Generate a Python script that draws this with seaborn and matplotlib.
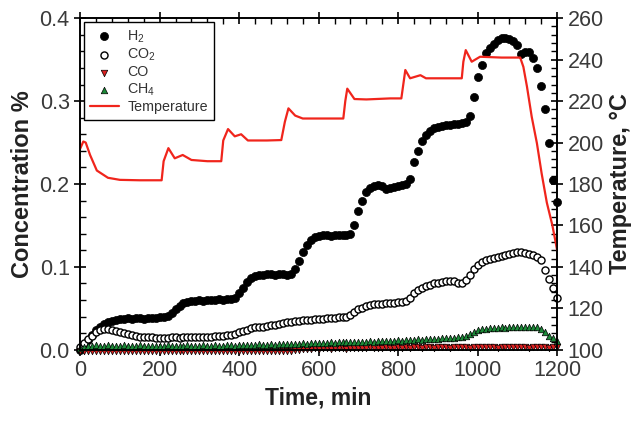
import numpy as np
import seaborn as sns
import matplotlib.pyplot as plt
from matplotlib.ticker import MultipleLocator, FormatStrFormatter

# sampling times of the gas readings (min)
time = np.arange(0, 1201, 10)

h2 = [0.000, 0.006, 0.012, 0.018, 0.024, 0.028, 0.031, 0.033, 0.035, 0.036,
      0.037, 0.037, 0.038, 0.037, 0.038, 0.038, 0.037, 0.038, 0.038, 0.038,
      0.039, 0.039, 0.041, 0.045, 0.049, 0.053, 0.056, 0.058, 0.059, 0.059,
      0.060, 0.059, 0.060, 0.060, 0.060, 0.061, 0.060, 0.061, 0.061, 0.063,
      0.068, 0.075, 0.082, 0.087, 0.089, 0.090, 0.090, 0.091, 0.091, 0.090,
      0.091, 0.091, 0.090, 0.092, 0.097, 0.107, 0.118, 0.127, 0.133, 0.136,
      0.137, 0.138, 0.138, 0.137, 0.138, 0.139, 0.138, 0.139, 0.140, 0.151,
      0.168, 0.180, 0.190, 0.195, 0.198, 0.199, 0.197, 0.194, 0.195, 0.196,
      0.197, 0.199, 0.200, 0.206, 0.226, 0.240, 0.252, 0.259, 0.264, 0.267,
      0.269, 0.270, 0.271, 0.271, 0.272, 0.272, 0.273, 0.275, 0.282, 0.305,
      0.329, 0.343, 0.358, 0.364, 0.369, 0.374, 0.376, 0.376, 0.375, 0.372,
      0.368, 0.357, 0.359, 0.359, 0.352, 0.340, 0.318, 0.290, 0.250, 0.205,
      0.178]

co2 = [0.003, 0.008, 0.013, 0.017, 0.021, 0.024, 0.025, 0.025, 0.024, 0.023,
       0.021, 0.020, 0.019, 0.018, 0.017, 0.016, 0.016, 0.015, 0.015, 0.014,
       0.014, 0.014, 0.014, 0.015, 0.015, 0.014, 0.015, 0.015, 0.015, 0.015,
       0.016, 0.016, 0.016, 0.016, 0.017, 0.017, 0.017, 0.018, 0.018, 0.019,
       0.021, 0.023, 0.024, 0.026, 0.027, 0.028, 0.028, 0.029, 0.030, 0.030,
       0.031, 0.032, 0.033, 0.034, 0.035, 0.035, 0.036, 0.036, 0.036, 0.037,
       0.037, 0.037, 0.038, 0.038, 0.038, 0.039, 0.039, 0.040, 0.042, 0.046,
       0.049, 0.051, 0.053, 0.054, 0.055, 0.055, 0.055, 0.056, 0.057, 0.057,
       0.058, 0.058, 0.059, 0.063, 0.068, 0.072, 0.075, 0.077, 0.078, 0.080,
       0.081, 0.082, 0.083, 0.083, 0.083, 0.081, 0.081, 0.084, 0.090, 0.097,
       0.102, 0.106, 0.108, 0.110, 0.111, 0.112, 0.113, 0.114, 0.116, 0.117,
       0.118, 0.118, 0.117, 0.116, 0.114, 0.112, 0.108, 0.096, 0.086, 0.075,
       0.063]

co = [-0.002, -0.001, -0.002, -0.001, -0.002, -0.001, -0.001, -0.002, -0.001, -0.002,
      -0.001, -0.001, -0.002, -0.001, -0.001, -0.002, -0.001, -0.001, -0.002, -0.001,
      -0.001, -0.002, -0.001, -0.001, -0.002, -0.001, -0.001, -0.001, -0.002, -0.001,
      -0.001, -0.001, -0.002, -0.001, -0.001, -0.001, -0.001, -0.002, -0.001, -0.001,
      -0.001, -0.001, -0.001, -0.001, -0.002, -0.001, -0.001, -0.001, -0.001, -0.001,
      -0.001, -0.001, -0.001, -0.001, 0.000, 0.000, 0.001, 0.001, 0.001, 0.002,
      0.001, 0.002, 0.002, 0.001, 0.002, 0.002, 0.002, 0.001, 0.002, 0.002,
      0.002, 0.002, 0.002, 0.003, 0.002, 0.002, 0.002, 0.003, 0.002, 0.002,
      0.003, 0.002, 0.003, 0.002, 0.003, 0.003, 0.002, 0.003, 0.003, 0.002,
      0.003, 0.003, 0.003, 0.002, 0.003, 0.003, 0.003, 0.003, 0.002, 0.003,
      0.003, 0.003, 0.003, 0.003, 0.003, 0.002, 0.003, 0.003, 0.003, 0.003,
      0.003, 0.003, 0.003, 0.002, 0.003, 0.003, 0.003, 0.003, 0.002, 0.003,
      0.003]

ch4 = [0.002, 0.004, 0.005, 0.005, 0.006, 0.005, 0.005, 0.006, 0.005, 0.005,
       0.005, 0.006, 0.005, 0.005, 0.005, 0.006, 0.005, 0.005, 0.005, 0.005,
       0.005, 0.005, 0.006, 0.005, 0.005, 0.005, 0.005, 0.006, 0.005, 0.005,
       0.005, 0.006, 0.005, 0.005, 0.006, 0.005, 0.005, 0.006, 0.006, 0.005,
       0.006, 0.006, 0.006, 0.006, 0.006, 0.007, 0.006, 0.006, 0.007, 0.006,
       0.007, 0.007, 0.007, 0.007, 0.007, 0.007, 0.008, 0.007, 0.008, 0.008,
       0.008, 0.008, 0.008, 0.009, 0.008, 0.009, 0.009, 0.009, 0.009, 0.010,
       0.010, 0.010, 0.010, 0.011, 0.010, 0.011, 0.011, 0.011, 0.011, 0.011,
       0.012, 0.011, 0.012, 0.012, 0.012, 0.013, 0.012, 0.013, 0.013, 0.013,
       0.013, 0.014, 0.014, 0.014, 0.014, 0.015, 0.015, 0.017, 0.019, 0.022,
       0.024, 0.025, 0.025, 0.026, 0.026, 0.026, 0.027, 0.026, 0.027, 0.027,
       0.027, 0.027, 0.028, 0.028, 0.028, 0.027, 0.025, 0.021, 0.017, 0.014,
       0.011]

# temperature trace (min, degC)
temp_time = [0, 8, 14, 25, 42, 70, 100, 150, 205, 210, 222, 238, 258, 280, 320, 355,
             360, 372, 389, 405, 422, 470, 506, 515, 524, 541, 560, 620, 662, 667,
             672, 690, 720, 780, 808, 818, 830, 856, 870, 920, 960, 964, 970, 985,
             1006, 1060, 1107, 1115, 1124, 1136, 1149, 1161, 1174, 1188, 1200]
temp_vals = [197, 200.5, 200, 194, 186.5, 183, 182, 181.8, 181.8, 191, 197.3, 192.4,
             194, 191.6, 191, 191, 201, 206.5, 203, 204, 201, 201, 201.2, 210,
             216.5, 213, 211.6, 211.6, 211.6, 220, 226, 221, 220.8, 221.3, 221.3,
             235, 231, 232.5, 231, 231, 231, 239, 244.6, 239, 241.4, 241, 241,
             236.5, 227, 212.4, 199.7, 185, 171, 160, 148]

sns.set_style('ticks')
plt.rcParams['font.family'] = ['Liberation Sans', 'DejaVu Sans']
plt.rcParams['mathtext.fontset'] = 'custom'
plt.rcParams['mathtext.rm'] = 'Liberation Sans'
plt.rcParams['mathtext.default'] = 'regular'

fig, ax = plt.subplots(figsize=(6.31, 4.23), dpi=100)
fig.subplots_adjust(left=0.127, right=0.883, bottom=0.173, top=0.957)

sns.scatterplot(x=time, y=h2, ax=ax, marker='o', s=34, color='black',
                edgecolor='black', linewidth=0.5, label='H$_2$', clip_on=False)
sns.scatterplot(x=time, y=co2, ax=ax, marker='o', s=26, facecolor='white',
                edgecolor='black', linewidth=1.0, label='CO$_2$', clip_on=False)
sns.scatterplot(x=time, y=co, ax=ax, marker='v', s=22, color='#d92020',
                edgecolor='black', linewidth=0.5, label='CO', clip_on=False)
sns.scatterplot(x=time, y=ch4, ax=ax, marker='^', s=22, color='#1c8a38',
                edgecolor='black', linewidth=0.5, label='CH$_4$', clip_on=False)

ax2 = ax.twinx()
sns.lineplot(x=temp_time, y=temp_vals, ax=ax2, color='#f0251c', linewidth=1.6,
             sort=False, estimator=None, label='Temperature')

ax.set_xlim(0, 1200)
ax.set_ylim(0, 0.4)
ax2.set_ylim(100, 260)
ax.xaxis.set_major_locator(MultipleLocator(200))
ax.xaxis.set_minor_locator(MultipleLocator(40))
ax.yaxis.set_major_locator(MultipleLocator(0.1))
ax.yaxis.set_minor_locator(MultipleLocator(0.02))
ax.yaxis.set_major_formatter(FormatStrFormatter('%.1f'))
ax2.yaxis.set_major_locator(MultipleLocator(20))
ax2.yaxis.set_minor_locator(MultipleLocator(4))

tick_color = '#3a3a3a'
for a in (ax, ax2):
    for s in a.spines.values():
        s.set_linewidth(1.2)
        s.set_color('black')
    a.tick_params(which='major', direction='inout', length=8, width=1.2,
                  labelsize=15.5, labelcolor=tick_color, color='black')
    a.tick_params(which='minor', direction='in', length=4, width=1.0, color='black')
ax.tick_params(axis='x', which='both', top=True)
ax.tick_params(axis='y', which='both', right=False)

ax.set_xlabel('Time, min', fontsize=16.5, fontweight='bold', color='#222222', labelpad=4)
ax.set_ylabel('Concentration %', fontsize=17, fontweight='bold', color='#222222', labelpad=4)
ax2.set_ylabel('Temperature, °C', fontsize=17, fontweight='bold', color='#222222', labelpad=4)

h1, l1 = ax.get_legend_handles_labels()
hh, ll = ax2.get_legend_handles_labels()
if ax.get_legend() is not None:
    ax.get_legend().remove()
ax2.legend(h1 + hh, l1 + ll, loc='upper left', bbox_to_anchor=(0.0, 1.0),
           fontsize=10.3, frameon=True, fancybox=False, edgecolor='black',
           framealpha=1, borderaxespad=0.3, handletextpad=0.6, labelspacing=0.15,
           handlelength=2.0, borderpad=0.4, labelcolor='#333333')
ax2.get_legend().get_frame().set_linewidth(1.0)

fig.savefig('out.png', dpi=100)
plt.close(fig)
